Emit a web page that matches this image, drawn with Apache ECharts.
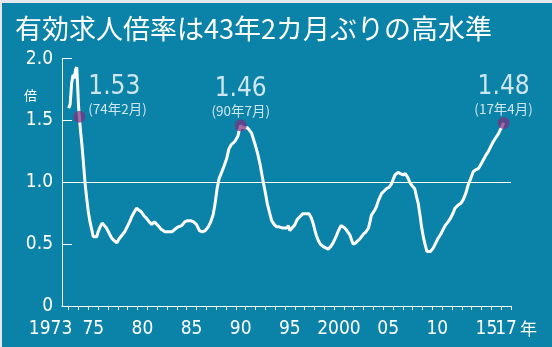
<!DOCTYPE html>
<html><head><meta charset="utf-8">
<script src="https://cdn.jsdelivr.net/npm/echarts@6/dist/echarts.min.js"></script>
<style>html,body{margin:0;padding:0;background:#e3e7e9;width:552px;height:347px;overflow:hidden}
#c{position:absolute;left:2px;top:3px;width:550px;height:344px}</style></head>
<body><div id="c"></div>
<script>
// ---- data ----
const years = [1973.0,1973.15,1973.3,1973.45,1973.55,1973.7,1973.82,1973.9,1974.0,1974.08,1974.2,1974.35,1974.5,1974.66,1974.83,1975.0,1975.17,1975.34,1975.5,1975.7,1975.85,1976.0,1976.2,1976.4,1976.6,1976.85,1977.1,1977.37,1977.6,1977.9,1978.1,1978.3,1978.5,1978.7,1978.95,1979.2,1979.4,1979.6,1979.9,1980.1,1980.4,1980.65,1980.9,1981.2,1981.45,1981.7,1981.85,1982.1,1982.4,1982.8,1983.2,1983.5,1983.8,1984.15,1984.5,1984.8,1985.1,1985.4,1985.7,1986.0,1986.3,1986.6,1986.9,1987.2,1987.45,1987.7,1987.9,1988.1,1988.3,1988.56,1988.8,1989.07,1989.3,1989.5,1989.9,1990.2,1990.35,1990.5,1990.7,1990.9,1991.2,1991.4,1991.6,1991.95,1992.2,1992.46,1992.8,1993.0,1993.2,1993.45,1993.65,1993.9,1994.16,1994.4,1994.6,1994.8,1995.0,1995.2,1995.35,1995.5,1995.7,1996.0,1996.25,1996.5,1996.8,1997.1,1997.45,1997.7,1997.9,1998.06,1998.2,1998.4,1998.6,1998.9,1999.1,1999.4,1999.65,1999.9,2000.2,2000.45,2000.7,2000.85,2001.1,2001.3,2001.6,2001.8,2001.95,2002.2,2002.46,2002.7,2002.97,2003.25,2003.5,2003.65,2003.8,2004.1,2004.3,2004.55,2004.84,2005.1,2005.35,2005.6,2005.86,2006.05,2006.2,2006.5,2006.75,2007.04,2007.25,2007.4,2007.55,2007.7,2007.95,2008.2,2008.4,2008.56,2008.75,2008.9,2009.1,2009.25,2009.45,2009.6,2009.8,2010.1,2010.35,2010.6,2010.85,2011.1,2011.3,2011.6,2011.85,2012.1,2012.3,2012.6,2012.9,2013.14,2013.4,2013.65,2013.9,2014.16,2014.4,2014.67,2014.9,2015.18,2015.45,2015.7,2015.95,2016.2,2016.45,2016.7,2016.95,2017.1,2017.25];
const ratios = [1.60,1.63,1.80,1.87,1.84,1.91,1.93,1.80,1.62,1.53,1.42,1.30,1.16,1.00,0.87,0.76,0.68,0.62,0.56,0.55,0.56,0.60,0.64,0.67,0.66,0.63,0.59,0.55,0.53,0.51,0.54,0.56,0.58,0.60,0.64,0.68,0.72,0.75,0.79,0.78,0.76,0.73,0.71,0.68,0.66,0.68,0.67,0.65,0.62,0.60,0.60,0.60,0.62,0.64,0.65,0.68,0.69,0.69,0.68,0.66,0.61,0.60,0.61,0.64,0.68,0.74,0.83,0.95,1.03,1.08,1.13,1.19,1.27,1.30,1.33,1.37,1.42,1.46,1.44,1.44,1.44,1.44,1.40,1.31,1.24,1.15,1.00,0.92,0.83,0.75,0.69,0.66,0.64,0.64,0.645,0.63,0.64,0.63,0.65,0.61,0.62,0.655,0.70,0.72,0.745,0.745,0.745,0.71,0.66,0.61,0.57,0.53,0.50,0.48,0.47,0.46,0.48,0.51,0.56,0.61,0.65,0.66,0.63,0.61,0.575,0.53,0.50,0.51,0.53,0.55,0.58,0.60,0.63,0.68,0.735,0.77,0.80,0.86,0.91,0.93,0.95,0.96,0.99,1.03,1.06,1.08,1.07,1.06,1.07,1.07,1.03,1.00,0.97,0.95,0.88,0.83,0.73,0.64,0.55,0.50,0.44,0.43,0.44,0.47,0.51,0.55,0.58,0.62,0.65,0.68,0.71,0.75,0.79,0.815,0.83,0.86,0.91,0.98,1.03,1.085,1.10,1.11,1.14,1.18,1.22,1.25,1.29,1.33,1.36,1.39,1.43,1.45,1.48];
const peakYears = [1974.08, 1990.5, 2017.25];
const peakValues = [1.53, 1.46, 1.48];
const peakDates = ['74年2月', '90年7月', '17年4月'];
const labelYears = [1973, 1975, 1980, 1985, 1990, 1995, 2000, 2005, 2010, 2015];
const labelTexts = ['1973', '75', '80', '85', '90', '95', '2000', '05', '10', '15'];
const lastLabelYear = 2017;
const lastLabelText = '17';
const yearUnit = '年';
const yTickValues = [0, 0.5, 1, 1.5, 2];
const yTickTexts = ['0', '0.5', '1.0', '1.5', '2.0'];
const titleText = '有効求人倍率は43年2カ月ぶりの高水準';
const unitText = '倍';

// ---- chart ----
const NUM = "'Liberation Sans Narrow','DejaVu Sans Condensed','Liberation Sans',sans-serif";
const JP = "'Noto Sans CJK JP',sans-serif";
const tickYears = [];
for (let y = 1973; y <= 2018; y++) tickYears.push(y);

const lineData = years.map((y, i) => [y, ratios[i]]);
const peakData = peakYears.map((y, i) => {
  const item = { value: [y, peakValues[i]] };
  if (i === 0) {
    item.label = { position: 'right', distance: 3, offset: [0, -22], align: 'left' };
  }
  return item;
});

const X_MIN = 1972.32, X_MAX = 2018;
const chart = echarts.init(document.getElementById('c'));
chart.setOption({
  animation: false,
  backgroundColor: '#0b82a8',
  title: [
    { text: titleText, left: 8, top: 7,
      textStyle: { color: '#fff', fontSize: 27, fontWeight: 'normal', fontFamily: JP } },
    { text: unitText, left: 17, top: 81,
      textStyle: { color: '#fff', fontSize: 13, fontWeight: 'normal', fontFamily: JP } }
  ],
  grid: { left: 60, right: 41, top: 55.6, bottom: 41 },
  xAxis: [{
    type: 'value', min: X_MIN, max: X_MAX, offset: 7, position: 'bottom',
    splitLine: { show: false },
    axisLine: { show: true, lineStyle: { color: '#fff', width: 1 } },
    axisTick: { show: true, customValues: tickYears, length: 4, lineStyle: { color: '#fff', width: 1 } },
    axisLabel: {
      customValues: labelYears.map(y => y + 0.5), hideOverlap: false,
      margin: 7, color: '#fff', fontSize: 19, fontFamily: NUM,
      formatter: function (v) {
        const i = labelYears.indexOf(Math.round(v - 0.5));
        if (i < 0) return '';
        if (i === 0) return '{f|' + labelTexts[i] + '}';
        return labelTexts[i];
      },
      rich: {
        f: { fontSize: 19, fontFamily: NUM, color: '#fff', padding: [0, 46, 0, 0] }
      }
    }
  }, {
    type: 'value', min: X_MIN, max: X_MAX, offset: 7, position: 'bottom',
    splitLine: { show: false },
    axisLine: { show: false },
    axisTick: { show: false },
    axisLabel: {
      customValues: [lastLabelYear + 0.5], hideOverlap: false,
      margin: 7, color: '#fff', fontSize: 19, fontFamily: NUM,
      formatter: function () { return '{l|' + lastLabelText + '}{u|' + yearUnit + '}'; },
      rich: {
        l: { fontSize: 19, fontFamily: NUM, color: '#fff', padding: [0, 0, 0, 20] },
        u: { fontSize: 17, fontFamily: JP, color: '#fff', padding: [0, 0, 1, 3] }
      }
    }
  }],
  yAxis: {
    type: 'value', min: 0, max: 2, interval: 0.5,
    splitLine: { show: false },
    axisLine: { show: true, lineStyle: { color: '#fff', width: 1 } },
    axisTick: { show: true, inside: true, length: 10, lineStyle: { color: '#fff', width: 1 } },
    axisLabel: {
      margin: 9, color: '#fff', fontSize: 19, fontFamily: NUM,
      formatter: function (v) {
        const i = yTickValues.indexOf(v);
        return i < 0 ? '' : yTickTexts[i];
      }
    }
  },
  series: [
    {
      type: 'line', data: lineData, showSymbol: false, symbol: 'none',
      lineStyle: { color: '#fff', width: 3 }, z: 3,
      markLine: {
        silent: true, symbol: 'none', label: { show: false },
        lineStyle: { color: '#fff', width: 1, type: 'solid' },
        data: [{ yAxis: 1 }]
      }
    },
    {
      type: 'scatter', data: peakData, symbolSize: 12, z: 5,
      itemStyle: { color: 'rgba(125,45,125,0.88)' },
      label: {
        show: true, position: 'top', distance: 1,
        formatter: function (p) {
          return '{v|' + peakValues[p.dataIndex].toFixed(2) + '}\n{d|(' + peakDates[p.dataIndex] + ')}';
        },
        rich: {
          v: { fontSize: 26, lineHeight: 28, fontFamily: NUM, color: '#fff' },
          d: { fontSize: 13.5, lineHeight: 15, fontFamily: JP, color: '#fff' }
        }
      }
    }
  ]
});
</script>
</body></html>
